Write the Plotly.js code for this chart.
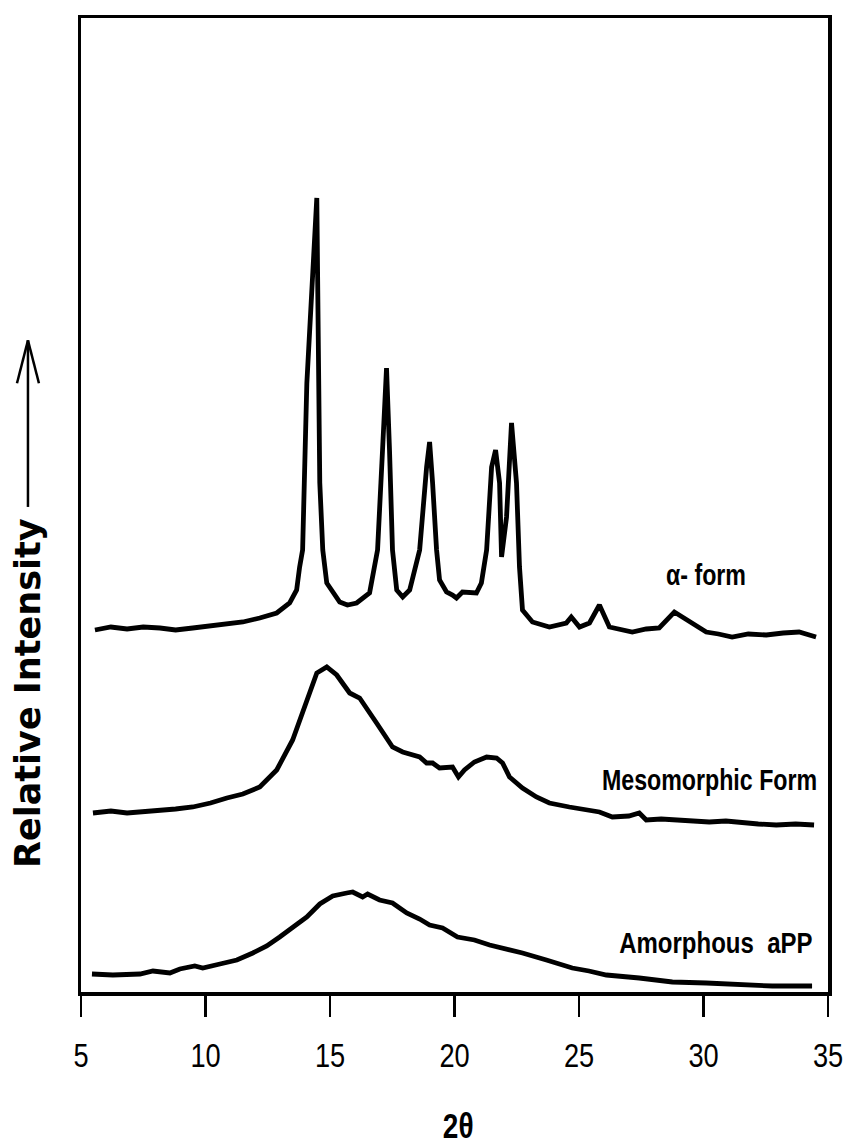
<!DOCTYPE html>
<html>
<head>
<meta charset="utf-8">
<script src="https://cdn.plot.ly/plotly-3.0.1.min.js"></script>
<style>html,body{margin:0;padding:0;background:#fff;}#chart{width:845px;height:1145px;}</style>
</head>
<body>
<div id="chart"></div>
<script>
// 2-theta tick values
var tickVals = [5, 10, 15, 20, 25, 30, 35];
var tickText = ["5", "10", "15", "20", "25", "30", "35"];

// alpha-form trace
var alphaX = [5.56, 6.2, 6.85, 7.5, 8.17, 8.8, 9.49, 10.2, 10.86, 11.5, 12.18, 12.86, 13.38, 13.66, 13.78, 13.9, 14.07, 14.31, 14.47, 14.59, 14.71, 14.87, 15.39, 15.7, 16.07, 16.59, 16.91, 17.11, 17.27, 17.39, 17.51, 17.68, 17.92, 18.2, 18.6, 18.88, 19.0, 19.12, 19.28, 19.4, 19.68, 19.92, 20.08, 20.32, 20.6, 20.88, 21.08, 21.29, 21.49, 21.65, 21.81, 21.89, 22.09, 22.29, 22.49, 22.61, 22.73, 23.13, 23.81, 24.49, 24.69, 25.02, 25.42, 25.82, 26.22, 26.7, 27.14, 27.7, 28.22, 28.83, 29.15, 29.55, 30.11, 30.6, 31.15, 31.8, 32.52, 33.2, 33.84, 34.52];
var alphaY = [36.2, 36.5, 36.3, 36.5, 36.4, 36.2, 36.4, 36.6, 36.7, 37.0, 37.4, 37.9, 38.9, 40.2, 42.5, 44.2, 60.9, 70.9, 79.4, 50.9, 44.2, 40.9, 39.0, 38.7, 38.9, 39.9, 44.2, 54.2, 62.4, 54.2, 44.2, 40.2, 39.5, 40.2, 44.2, 52.5, 55.0, 50.9, 44.2, 41.2, 40.0, 39.7, 39.4, 40.0, 39.9, 39.9, 40.9, 44.2, 52.5, 54.2, 50.9, 43.5, 47.5, 56.9, 50.9, 42.5, 38.2, 37.0, 36.5, 36.9, 37.5, 36.5, 36.9, 38.7, 36.5, 36.3, 36.0, 36.3, 36.4, 38.0, 37.5, 36.9, 36.0, 35.8, 35.5, 35.8, 35.7, 35.9, 36.0, 35.5];

// mesomorphic form trace
var mesoX = [5.48, 6.2, 6.85, 7.5, 8.17, 8.8, 9.49, 10.2, 10.86, 11.5, 12.18, 12.86, 13.5, 14.07, 14.47, 14.87, 15.27, 15.79, 16.19, 16.87, 17.51, 17.92, 18.6, 18.88, 19.12, 19.4, 19.92, 20.16, 20.4, 20.8, 21.29, 21.69, 21.93, 22.21, 22.73, 23.29, 23.81, 24.61, 25.3, 25.82, 26.34, 27.0, 27.42, 27.7, 28.3, 28.91, 29.6, 30.23, 30.9, 31.55, 32.2, 32.92, 33.7, 34.44];
var mesoY = [17.9, 18.1, 17.9, 18.0, 18.2, 18.3, 18.5, 18.9, 19.4, 19.8, 20.5, 22.2, 25.2, 29.2, 31.9, 32.5, 31.7, 29.9, 29.4, 26.9, 24.5, 24.0, 23.5, 22.9, 22.9, 22.4, 22.5, 21.5, 22.2, 23.0, 23.5, 23.4, 22.9, 21.5, 20.4, 19.5, 18.9, 18.5, 18.2, 18.0, 17.5, 17.6, 17.9, 17.2, 17.3, 17.2, 17.1, 17.0, 17.1, 16.9, 16.8, 16.7, 16.8, 16.7];

// amorphous aPP trace
var amorX = [5.44, 6.28, 7.37, 7.89, 8.57, 8.97, 9.57, 9.89, 10.58, 11.26, 11.9, 12.46, 12.98, 13.5, 14.07, 14.59, 15.11, 15.67, 15.91, 16.31, 16.51, 16.99, 17.51, 18.08, 18.6, 19.0, 19.52, 20.12, 20.8, 21.41, 22.1, 22.73, 23.69, 24.73, 25.4, 26.1, 27.42, 28.75, 30.11, 31.43, 32.76, 34.36];
var amorY = [1.8, 1.7, 1.8, 2.1, 1.9, 2.3, 2.6, 2.4, 2.8, 3.2, 3.9, 4.6, 5.5, 6.5, 7.5, 8.8, 9.6, 9.9, 10.0, 9.5, 9.8, 9.2, 8.9, 7.9, 7.3, 6.7, 6.4, 5.5, 5.2, 4.7, 4.3, 3.9, 3.2, 2.4, 2.1, 1.7, 1.4, 1.0, 0.9, 0.7, 0.6, 0.6];

var labels = ["α- form", "Mesomorphic Form", "Amorphous  aPP"];

var lineStyle = {color: "#000", width: 4.8, shape: "linear"};
var traces = [
  {x: alphaX, y: alphaY, mode: "lines", line: lineStyle, hoverinfo: "skip", name: labels[0]},
  {x: mesoX, y: mesoY, mode: "lines", line: lineStyle, hoverinfo: "skip", name: labels[1]},
  {x: amorX, y: amorY, mode: "lines", line: lineStyle, hoverinfo: "skip", name: labels[2]}
];

var sans = "Liberation Sans, Arial, sans-serif";

var layout = {
  width: 845, height: 1145,
  margin: {l: 81, r: 17, t: 18, b: 153},
  paper_bgcolor: "#fff", plot_bgcolor: "#fff",
  showlegend: false,
  xaxis: {
    range: [5, 35], tickmode: "array", tickvals: tickVals, ticktext: tickText,
    ticks: "outside", ticklen: 21, tickwidth: 2.5, tickcolor: "#000",
    showline: true, linewidth: 3.5, linecolor: "#000", mirror: true,
    showgrid: false, zeroline: false,
    tickfont: {family: sans, size: 34, color: "#000"},
    ticklabelstandoff: 10,
    ticklabeloverflow: "allow",
    automargin: false,
    title: {text: ""}
  },
  yaxis: {
    range: [0, 97.4], showticklabels: false, ticks: "",
    showline: true, linewidth: 3.5, linecolor: "#000", mirror: true,
    showgrid: false, zeroline: false, title: {text: ""}
  },
  annotations: [
    {x: 30.11, y: 41.7, xref: "x", yref: "y", text: "<b>" + labels[0] + "</b>", showarrow: false,
     font: {family: sans, size: 29, color: "#000"}, xanchor: "center", yanchor: "middle"},
    {x: 30.23, y: 21.2, xref: "x", yref: "y", text: "<b>" + labels[1] + "</b>", showarrow: false,
     font: {family: sans, size: 29, color: "#000"}, xanchor: "center", yanchor: "middle"},
    {x: 30.51, y: 5.0, xref: "x", yref: "y", text: "<b>" + labels[2] + "</b>", showarrow: false,
     font: {family: sans, size: 30, color: "#000"}, xanchor: "center", yanchor: "middle"},
    {x: -0.071, y: 0.307, xref: "paper", yref: "paper", text: "<b>Relative Intensity</b>", textangle: -90,
     showarrow: false, font: {family: "DejaVu Sans, sans-serif", size: 35, color: "#000"}, xanchor: "center", yanchor: "middle"},
    {x: 0.505, y: -0.1366, xref: "paper", yref: "paper", text: "<b>2θ</b>", showarrow: false,
     font: {family: sans, size: 35, color: "#000"}, xanchor: "center", yanchor: "middle"}
  ],
  shapes: [
    {type: "line", xref: "paper", yref: "paper", x0: -0.071, x1: -0.071, y0: 0.498, y1: 0.669, line: {color: "#000", width: 2.5}},
    {type: "line", xref: "paper", yref: "paper", x0: -0.071, x1: -0.0857, y0: 0.669, y1: 0.625, line: {color: "#000", width: 2.5}},
    {type: "line", xref: "paper", yref: "paper", x0: -0.071, x1: -0.0563, y0: 0.669, y1: 0.625, line: {color: "#000", width: 2.5}}
  ]
};

function condense(el, f) {
  el.style.transformBox = "fill-box";
  el.style.transformOrigin = "center";
  el.style.transform = "scaleX(" + f + ")";
}

Plotly.newPlot("chart", traces, layout, {displayModeBar: false, staticPlot: true}).then(function (gd) {
  gd.querySelectorAll(".xtick text").forEach(function (t) {
    var bb = t.getBBox();
    var orig = t.getAttribute("transform") || "";
    var cx = bb.x + bb.width / 2;
    t.setAttribute("transform", orig + " translate(" + cx + ",0) scale(0.8,1) translate(" + (-cx) + ",0)");
  });
  var ann = gd.querySelectorAll(".annotation-text");
  ann.forEach(function (t, i) { if (i !== 3) condense(t, 0.8); });
});
</script>
</body>
</html>
